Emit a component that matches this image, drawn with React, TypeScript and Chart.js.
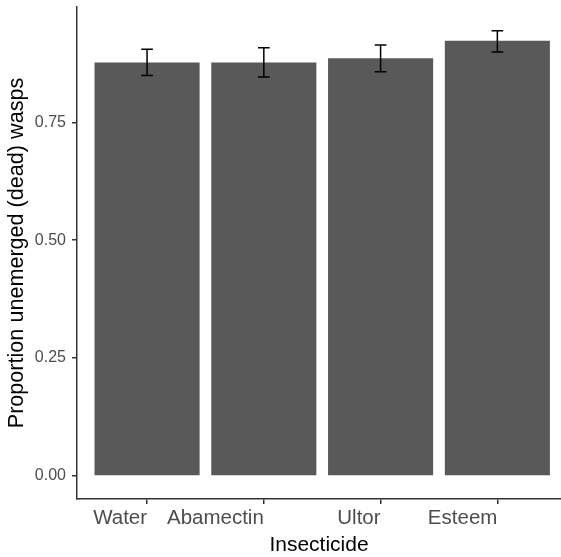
import React, { useEffect, useRef } from 'react';
import { Chart, registerables } from 'chart.js';

Chart.register(...registerables);

const categories = ['Water', 'Abamectin', 'Ultor', 'Esteem'];
const proportions = [0.877, 0.877, 0.886, 0.923];
const lowerErr = [0.849, 0.846, 0.857, 0.899];
const upperErr = [0.905, 0.908, 0.914, 0.944];
const yTickValues = [0, 0.25, 0.5, 0.75];

const FONT = "'Liberation Sans', Arial, sans-serif";

export default function App() {
  const ref = useRef<HTMLCanvasElement>(null);

  useEffect(() => {
    document.body.style.margin = '0';
    if (!ref.current) return;

    const errorBars = {
      id: 'errorBars',
      afterDatasetsDraw(chart: any) {
        const { ctx, scales } = chart;
        const x = scales.x;
        const y = scales.y;
        ctx.save();
        ctx.strokeStyle = '#000000';
        ctx.lineWidth = 1.5;
        categories.forEach((_, i) => {
          const cx = x.getPixelForValue(i + 1);
          const l = x.getPixelForValue(i + 1 - 0.05);
          const r = x.getPixelForValue(i + 1 + 0.05);
          const yl = y.getPixelForValue(lowerErr[i]);
          const yh = y.getPixelForValue(upperErr[i]);
          ctx.beginPath();
          ctx.moveTo(cx, yl);
          ctx.lineTo(cx, yh);
          ctx.moveTo(l, yl);
          ctx.lineTo(r, yl);
          ctx.moveTo(l, yh);
          ctx.lineTo(r, yh);
          ctx.stroke();
        });
        ctx.restore();
      },
    };

    const chart = new Chart(ref.current, {
      type: 'bar',
      data: {
        datasets: [
          {
            data: categories.map((_, i) => ({ x: i + 1, y: proportions[i] })),
            backgroundColor: '#595959',
            borderWidth: 0,
            barPercentage: 0.9,
            categoryPercentage: 1,
          },
        ],
      },
      options: {
        responsive: false,
        animation: false,
        devicePixelRatio: 1,
        layout: { padding: { top: 7, right: 0, left: 0, bottom: 0 } },
        plugins: {
          legend: { display: false },
          tooltip: { enabled: false },
        },
        scales: {
          x: {
            type: 'linear',
            offset: false,
            min: 0.4,
            max: 4.545,
            afterBuildTicks(scale: any) {
              scale.ticks = categories.map((_, i) => ({ value: i + 1 }));
            },
            afterFit(scale: any) {
              scale.height = 58;
              scale.paddingLeft = 0;
              scale.paddingRight = 0;
            },
            ticks: {
              callback: (v: any) => categories[Math.round(v) - 1] ?? '',
              align: 'end',
              autoSkip: false,
              maxRotation: 0,
              minRotation: 0,
              padding: 2,
              color: '#4D4D4D',
              font: { family: FONT, size: 20.5 },
            },
            grid: {
              display: true,
              offset: false,
              drawOnChartArea: false,
              drawTicks: true,
              tickLength: 5,
              color: '#333333',
              lineWidth: 1.5,
            },
            border: { display: true, color: '#333333', width: 1.5 },
            title: {
              display: true,
              text: 'Insecticide',
              color: '#000000',
              font: { family: FONT, size: 21, lineHeight: 1.1 },
              padding: { top: 0, bottom: 0 },
            },
          },
          y: {
            type: 'linear',
            min: -0.0488,
            max: 0.9945,
            afterBuildTicks(scale: any) {
              scale.ticks = yTickValues.map((v) => ({ value: v }));
            },
            afterFit(scale: any) {
              scale.width = 77;
              scale.paddingTop = 0;
              scale.paddingBottom = 0;
            },
            ticks: {
              callback: (v: any) => Number(v).toFixed(2),
              padding: 6,
              color: '#4D4D4D',
              font: { family: FONT, size: 16 },
            },
            grid: {
              display: true,
              drawOnChartArea: false,
              drawTicks: true,
              tickLength: 5,
              color: '#333333',
              lineWidth: 1.5,
            },
            border: { display: true, color: '#333333', width: 1.5 },
            title: {
              display: true,
              text: 'Proportion unemerged (dead) wasps',
              color: '#000000',
              font: { family: FONT, size: 21.6, lineHeight: 1.1 },
              padding: { top: 5.5, bottom: 0 },
            },
          },
        },
      },
      plugins: [errorBars],
    } as any);

    return () => chart.destroy();
  }, []);

  return (
    <canvas
      ref={ref}
      width={561}
      height={557}
      style={{ display: 'block', width: 561, height: 557 }}
    />
  );
}
